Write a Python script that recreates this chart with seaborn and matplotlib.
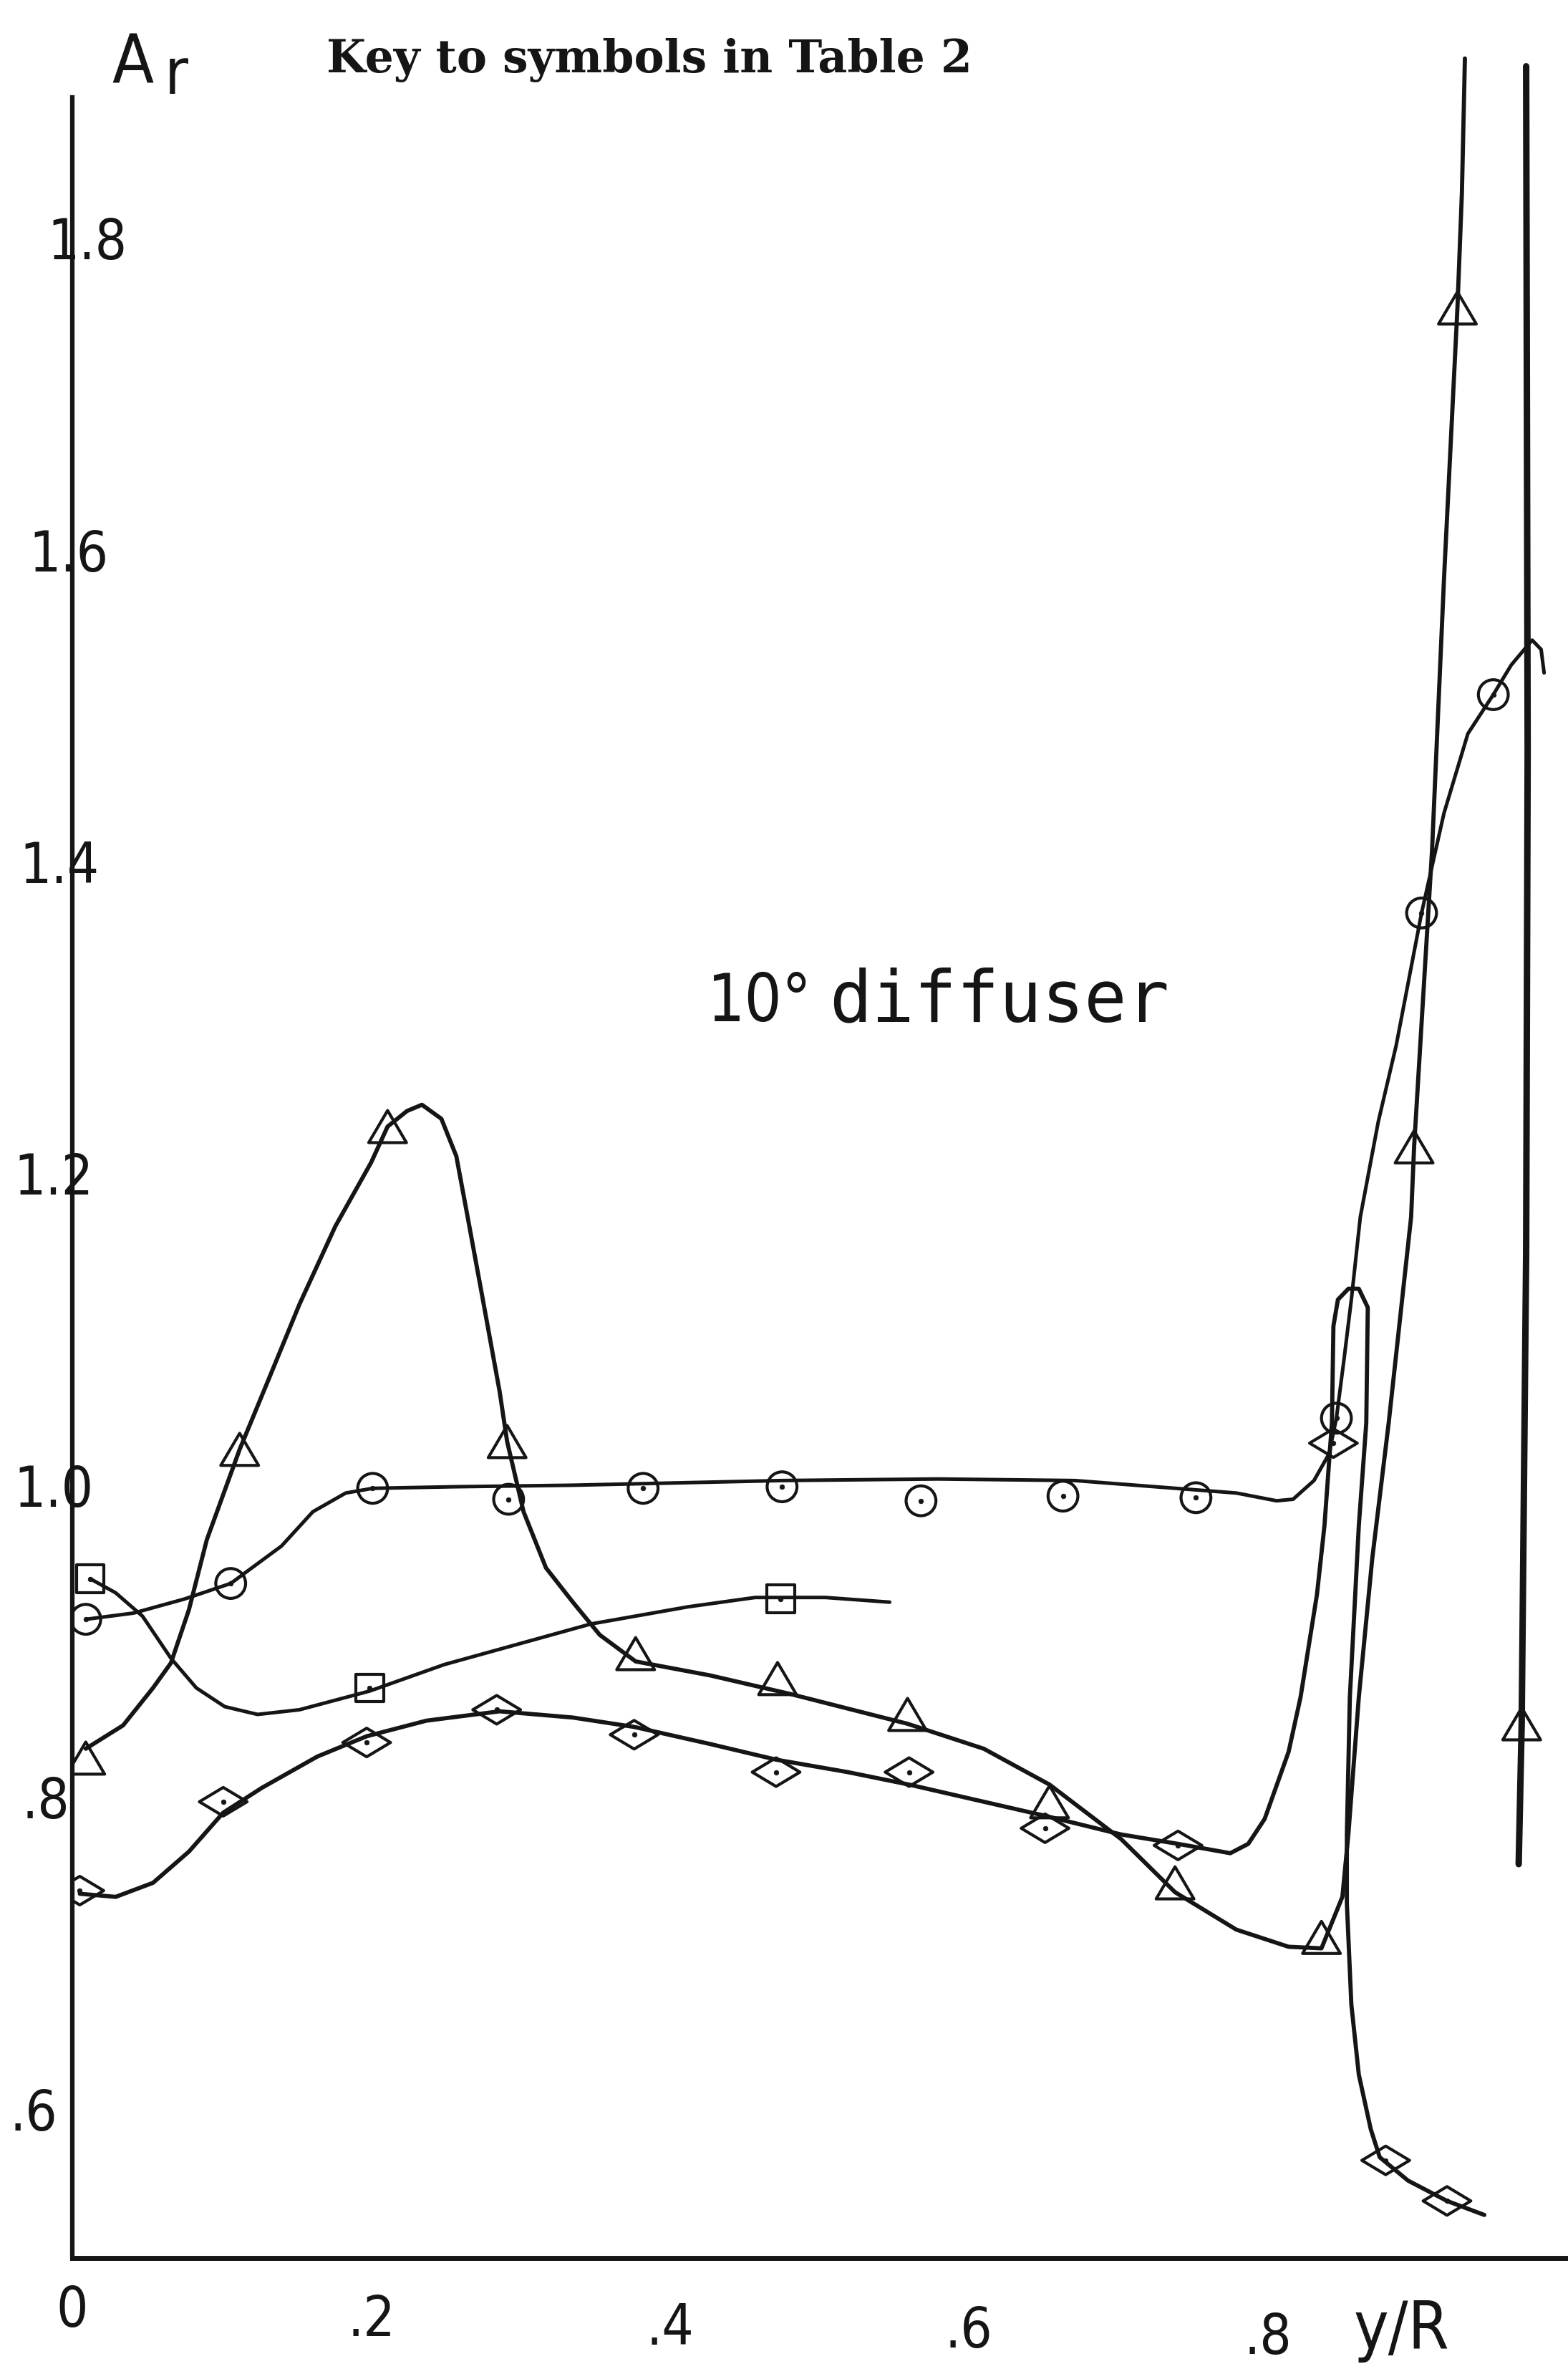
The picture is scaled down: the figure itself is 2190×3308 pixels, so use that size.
import numpy as np
import pandas as pd
import seaborn as sns
import matplotlib.pyplot as plt
from matplotlib.path import Path

# A_r against y/R for the 10 degree diffuser

# circles
circ_x = [0.009, 0.106, 0.201, 0.292, 0.382, 0.475, 0.568, 0.663, 0.752, 0.846, 0.903, 0.951]
circ_y = [0.914, 0.937, 0.998, 0.991, 0.998, 0.999, 0.990, 0.993, 0.992, 1.043, 1.367, 1.507]
circ_line_x = [0.009, 0.041, 0.075, 0.106, 0.140, 0.161, 0.183, 0.201, 0.255, 0.335, 0.475, 0.579,
               0.671, 0.752, 0.779, 0.806, 0.817, 0.831, 0.841, 0.846, 0.851, 0.856, 0.862, 0.874,
               0.886, 0.903, 0.918, 0.934, 0.951, 0.963, 0.977, 0.983, 0.985]
circ_line_y = [0.914, 0.918, 0.927, 0.937, 0.961, 0.983, 0.995, 0.998, 0.999, 1.000, 1.003, 1.004,
               1.003, 0.997, 0.995, 0.990, 0.991, 1.003, 1.020, 1.043, 1.080, 1.119, 1.172, 1.233,
               1.282, 1.367, 1.431, 1.482, 1.507, 1.526, 1.542, 1.536, 1.521]

# triangles
tri_x = [0.009, 0.112, 0.211, 0.291, 0.377, 0.472, 0.559, 0.654, 0.738, 0.836, 0.898, 0.927, 0.970]
tri_y = [0.825, 1.023, 1.230, 1.028, 0.892, 0.876, 0.853, 0.797, 0.745, 0.710, 1.217, 1.755, 0.847]
tri_line_x = [0.009, 0.034, 0.054, 0.066, 0.078, 0.090, 0.112, 0.131, 0.152, 0.176, 0.200, 0.211,
              0.224, 0.234, 0.247, 0.257, 0.264, 0.274, 0.286, 0.291, 0.302, 0.317, 0.335, 0.353,
              0.377, 0.427, 0.481, 0.559, 0.610, 0.654, 0.702, 0.738, 0.779, 0.814, 0.836, 0.850,
              0.854, 0.861, 0.870, 0.881, 0.896, 0.898, 0.910, 0.918, 0.927, 0.930, 0.932]
tri_line_y = [0.831, 0.846, 0.870, 0.886, 0.920, 0.965, 1.023, 1.067, 1.116, 1.166, 1.207, 1.230,
              1.240, 1.244, 1.235, 1.211, 1.175, 1.123, 1.060, 1.028, 0.983, 0.947, 0.925, 0.904,
              0.887, 0.878, 0.866, 0.847, 0.831, 0.808, 0.773, 0.739, 0.715, 0.704, 0.703, 0.736,
              0.776, 0.864, 0.953, 1.040, 1.172, 1.217, 1.407, 1.581, 1.755, 1.829, 1.915]
# right hand branch, comes back down from above the frame
tri_right_x = [0.973, 0.974, 0.973, 0.970, 0.968]
tri_right_y = [1.910, 1.471, 1.149, 0.847, 0.757]

# squares
sq_x = [0.012, 0.199, 0.474]
sq_y = [0.940, 0.870, 0.927]
sq_line_x = [0.012, 0.029, 0.047, 0.066, 0.083, 0.102, 0.124, 0.152, 0.199, 0.249, 0.298, 0.347,
             0.412, 0.457, 0.504, 0.547]
sq_line_y = [0.940, 0.931, 0.916, 0.889, 0.870, 0.858, 0.853, 0.856, 0.868, 0.885, 0.898, 0.911,
             0.922, 0.928, 0.928, 0.925]

# diamonds
dia_x = [0.005, 0.101, 0.197, 0.284, 0.376, 0.471, 0.560, 0.651, 0.740, 0.844, 0.879, 0.920]
dia_y = [0.740, 0.797, 0.835, 0.856, 0.840, 0.816, 0.816, 0.780, 0.769, 1.027, 0.567, 0.541]
dia_line_x = [0.005, 0.029, 0.054, 0.078, 0.101, 0.127, 0.164, 0.197, 0.237, 0.286, 0.335, 0.376,
              0.427, 0.471, 0.519, 0.560, 0.610, 0.651, 0.702, 0.740, 0.775, 0.787, 0.798, 0.814,
              0.822, 0.833, 0.838, 0.843, 0.844, 0.847, 0.854, 0.861, 0.867, 0.866, 0.861, 0.855,
              0.853, 0.853, 0.856, 0.861, 0.869, 0.875, 0.894, 0.920, 0.945]
dia_line_y = [0.738, 0.736, 0.745, 0.765, 0.790, 0.806, 0.826, 0.839, 0.849, 0.855, 0.851, 0.845,
              0.834, 0.824, 0.816, 0.808, 0.797, 0.788, 0.776, 0.770, 0.764, 0.770, 0.786, 0.829,
              0.864, 0.930, 0.974, 1.040, 1.102, 1.119, 1.126, 1.126, 1.114, 1.040, 0.974, 0.864,
              0.776, 0.732, 0.667, 0.622, 0.587, 0.569, 0.554, 0.541, 0.532]

x_ticks = [0, 0.2, 0.4, 0.6, 0.8]
x_labels = ['0', '.2', '.4', '.6', '.8']
y_ticks = [0.6, 0.8, 1.0, 1.2, 1.4, 1.6, 1.8]
y_labels = ['.6', '.8', '1.0', '1.2', '1.4', '1.6', '1.8']

sns.set_style("white")
plt.rcParams['font.family'] = ['DejaVu Sans']

W, H = 2190, 3308
fig = plt.figure(figsize=(W / 100, H / 100), dpi=100)
ax = fig.add_axes([101 / W, 155 / H, 1 - 101 / W, 1 - 155 / H])

ink = '#151515'


def curve(xs, ys, width=3.6):
    sns.lineplot(x=xs, y=ys, sort=False, estimator=None, color=ink, linewidth=width, ax=ax)


def marks(xs, ys, marker, size, dot=True):
    sns.scatterplot(x=xs, y=ys, marker=marker, s=size, color=ink, facecolor='none',
                    edgecolor=ink, linewidth=3.0, ax=ax, zorder=3)
    if dot:
        sns.scatterplot(x=xs, y=ys, marker='o', s=24, color=ink, edgecolor=ink, ax=ax, zorder=4)


diamond = Path([(-1, 0), (0, 0.6), (1, 0), (0, -0.6), (-1, 0)],
               [Path.MOVETO, Path.LINETO, Path.LINETO, Path.LINETO, Path.CLOSEPOLY])
triangle = Path([(0, 0.85), (-1, -0.85), (1, -0.85), (0, 0.85)],
                [Path.MOVETO, Path.LINETO, Path.LINETO, Path.CLOSEPOLY])

curve(circ_line_x, circ_line_y)
curve(tri_line_x, tri_line_y, 4.2)
curve(tri_right_x, tri_right_y, 6.5)
curve(sq_line_x, sq_line_y)
curve(dia_line_x, dia_line_y, 4.2)

marks(circ_x, circ_y, 'o', 900)
marks(tri_x, tri_y, triangle, 38 ** 2, dot=False)
marks(sq_x, sq_y, 's', 28 ** 2)
marks(dia_x, dia_y, diamond, 48 ** 2)

ax.set_xlim(0, 1.001)
ax.set_ylim(0.5044, 1.9525)
ax.set_xticks(x_ticks)
ax.set_xticklabels(x_labels, fontstretch='condensed')
ax.set_yticks(y_ticks)
ax.set_yticklabels(y_labels, fontstretch='condensed')
ax.set_xlabel('')
ax.set_ylabel('')

ax.spines['top'].set_visible(False)
ax.spines['right'].set_visible(False)
ax.spines['left'].set_linewidth(4.5)
ax.spines['bottom'].set_linewidth(5)
ax.spines['left'].set_color(ink)
ax.spines['bottom'].set_color(ink)
ax.spines['left'].set_bounds(0.5044, 1.89)

ax.tick_params(direction='inout', length=40, width=2.4, colors=ink, labelsize=56)
# the hand lettered labels follow the leaning axes of the scan
for t, p in zip(ax.yaxis.get_major_ticks(), [-5, -17, -41, -41, -47, -56, -75]):
    t.set_pad(p)
for t, p in zip(ax.xaxis.get_major_ticks(), [6, 15, 24, 27, 33]):
    t.set_pad(p)

fig.text(185 / W, 1 - 117 / H, 'A', fontstretch='condensed', fontsize=68, ha='center',
         va='baseline', color=ink)
fig.text(246 / W, 1 - 131 / H, 'r', fontstretch='condensed', fontsize=64, ha='center',
         va='baseline', color=ink)
fig.text(907 / W, 1 - 84 / H, 'Key to symbols in Table 2', family='DejaVu Serif',
         weight='bold', fontsize=45.5, ha='center', va='center', color=ink)
fig.text(988 / W, 1 - 1426 / H, '10°', fontstretch='condensed', fontsize=66, ha='left',
         va='baseline', color=ink)
fig.text(1158 / W, 1 - 1426 / H, 'diffuser', family='DejaVu Sans Mono', fontsize=71,
         ha='left', va='baseline', color=ink)
fig.text(1957 / W, 1 - 3280 / H, 'y/R', fontstretch='condensed', fontsize=66, ha='center',
         va='baseline', color=ink)

fig.savefig('out.png', dpi=100, facecolor='white')
